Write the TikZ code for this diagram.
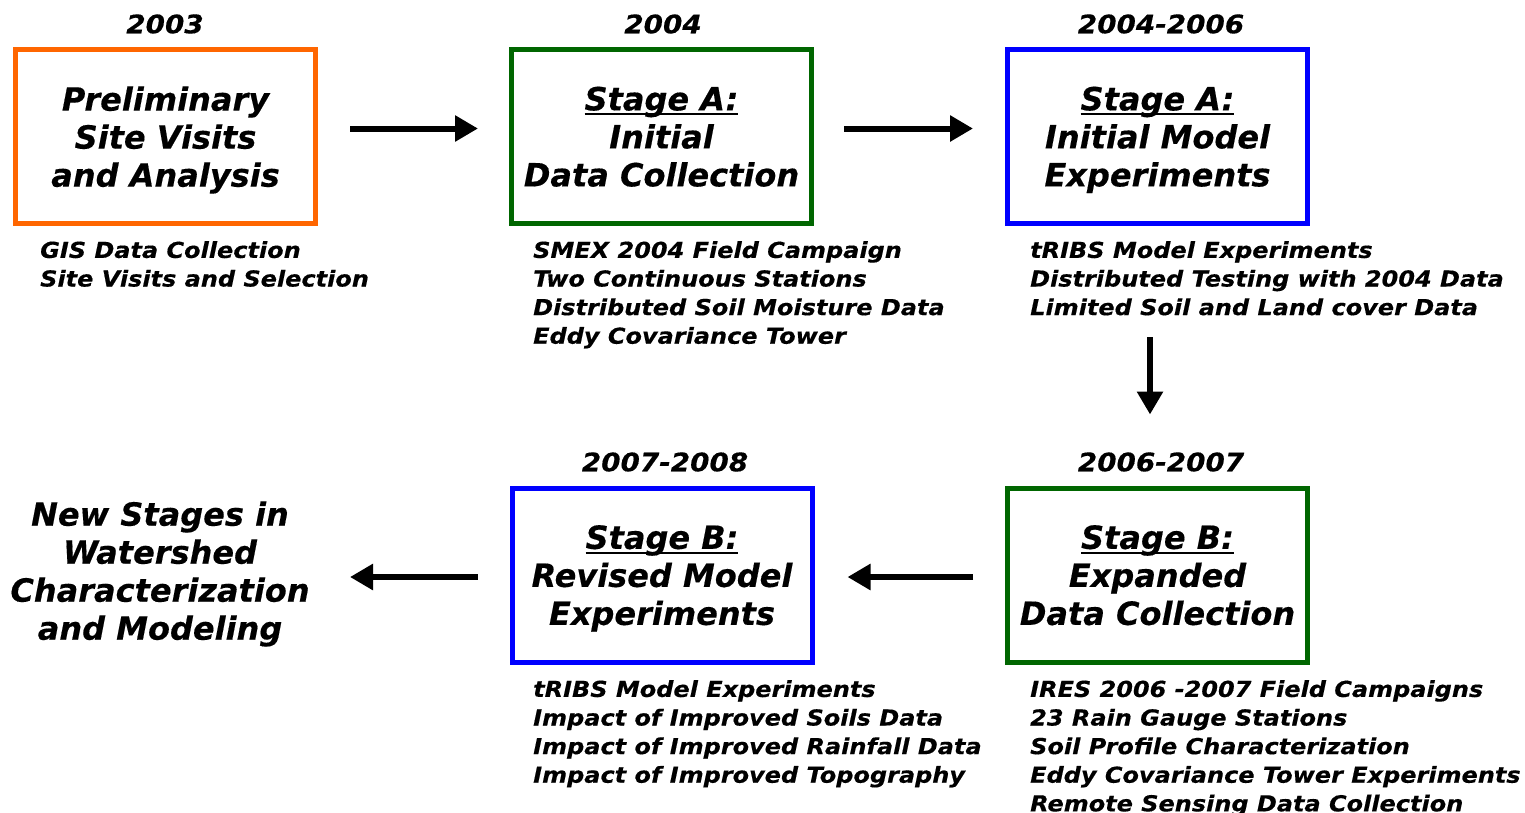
\documentclass[tikz,border=0pt]{standalone}
\usepackage{fontspec}
\setmainfont{DejaVu Sans}[FakeBold=0.4]
\newfontfamily\widefont{DejaVu Sans}[FakeStretch=1.09,FakeBold=0.4]
\usetikzlibrary{arrows.meta}

\definecolor{stageorange}{RGB}{255,102,0}
\definecolor{stagegreen}{RGB}{0,102,0}
\definecolor{stageblue}{RGB}{0,0,255}

% underline a stage title with a heavier rule
\newcommand\stageul[1]{\setbox0\hbox{#1}\rlap{\rule[-5pt]{\wd0}{2.2pt}}\box0}

\begin{document}
\begin{tikzpicture}[x=1pt,y=-1pt,
    stagebox/.style={draw, line width=5pt, minimum width=300pt, minimum height=174pt,
        inner sep=0pt, text depth=0pt, align=center, text=black,
        font=\fontsize{32}{38}\selectfont\bfseries\itshape},
    year/.style={font=\widefont\fontsize{25.5}{30}\selectfont\bfseries\itshape},
    tasks/.style={anchor=north west, inner sep=0pt, align=left,
        font=\widefont\fontsize{22}{28.6}\selectfont\bfseries\itshape},
    flow/.style={line width=6pt, -{Triangle[length=23pt,width=25pt]}}]
    \useasboundingbox (0,0) rectangle (1525,812);

    % top row
    \node[stagebox, draw=stageorange] (prelim) at (165.5,136.5) {Preliminary\\Site Visits\\and Analysis};
    \node[stagebox, draw=stagegreen] (initdata) at (661.5,136.5) {\stageul{Stage A:}\\Initial\\Data Collection};
    \node[stagebox, draw=stageblue] (initmodel) at (1157.5,136.5) {\stageul{Stage A:}\\Initial Model\\Experiments};

    % bottom row
    \node[stagebox, draw=stagegreen] (expdata) at (1157.5,575) {\stageul{Stage B:}\\Expanded\\Data Collection};
    \node[stagebox, draw=stageblue] (revmodel) at (662,575) {\stageul{Stage B:}\\Revised Model\\Experiments};
    \node[align=center, inner sep=0pt, font=\fontsize{32}{38}\selectfont\bfseries\itshape] (newstages) at (160,574)
        {New Stages in\\Watershed\\Characterization\\and Modeling};
    \coordinate (newend) at (350,577);

    % years
    \node[year] (y1) at (165,24) {2003};
    \node[year] (y2) at (663,24) {2004};
    \node[year] (y3) at (1161,24) {2004-2006};
    \node[year] (y4) at (665,462) {2007-2008};
    \node[year] (y5) at (1161,462) {2006-2007};

    % task lists
    \node[tasks] (t1) at (40,241) {GIS Data Collection\\Site Visits and Selection};
    \node[tasks] (t2) at (533,241) {SMEX 2004 Field Campaign\\Two Continuous Stations\\Distributed Soil Moisture Data\\Eddy Covariance Tower};
    \node[tasks] (t3) at (1030,241) {tRIBS Model Experiments\\Distributed Testing with 2004 Data\\Limited Soil and Land cover Data};
    \node[tasks] (t4) at (533,680) {tRIBS Model Experiments\\Impact of Improved Soils Data\\Impact of Improved Rainfall Data\\Impact of Improved Topography};
    \node[tasks] (t5) at (1030,680) {IRES 2006 -2007 Field Campaigns\\23 Rain Gauge Stations\\Soil Profile Characterization\\Eddy Covariance Tower Experiments\\Remote Sensing Data Collection};

    % arrows
    \draw[flow, shorten <=32pt, shorten >=31pt] ([yshift=8pt]prelim.east) -- ([yshift=8pt]initdata.west);
    \draw[flow, shorten <=30pt, shorten >=32pt] ([yshift=8pt]initdata.east) -- ([yshift=8pt]initmodel.west);
    \draw[flow, shorten <=111pt, shorten >=71pt] ([xshift=-7.5pt]initmodel.south) -- ([xshift=-7.5pt]expdata.north);
    \draw[flow, shorten <=32pt, shorten >=33pt] ([yshift=-2pt]expdata.west) -- ([yshift=-2pt]revmodel.east);
    \draw[flow, shorten <=32pt] ([yshift=-2pt]revmodel.west) -- (newend);
\end{tikzpicture}
\end{document}
